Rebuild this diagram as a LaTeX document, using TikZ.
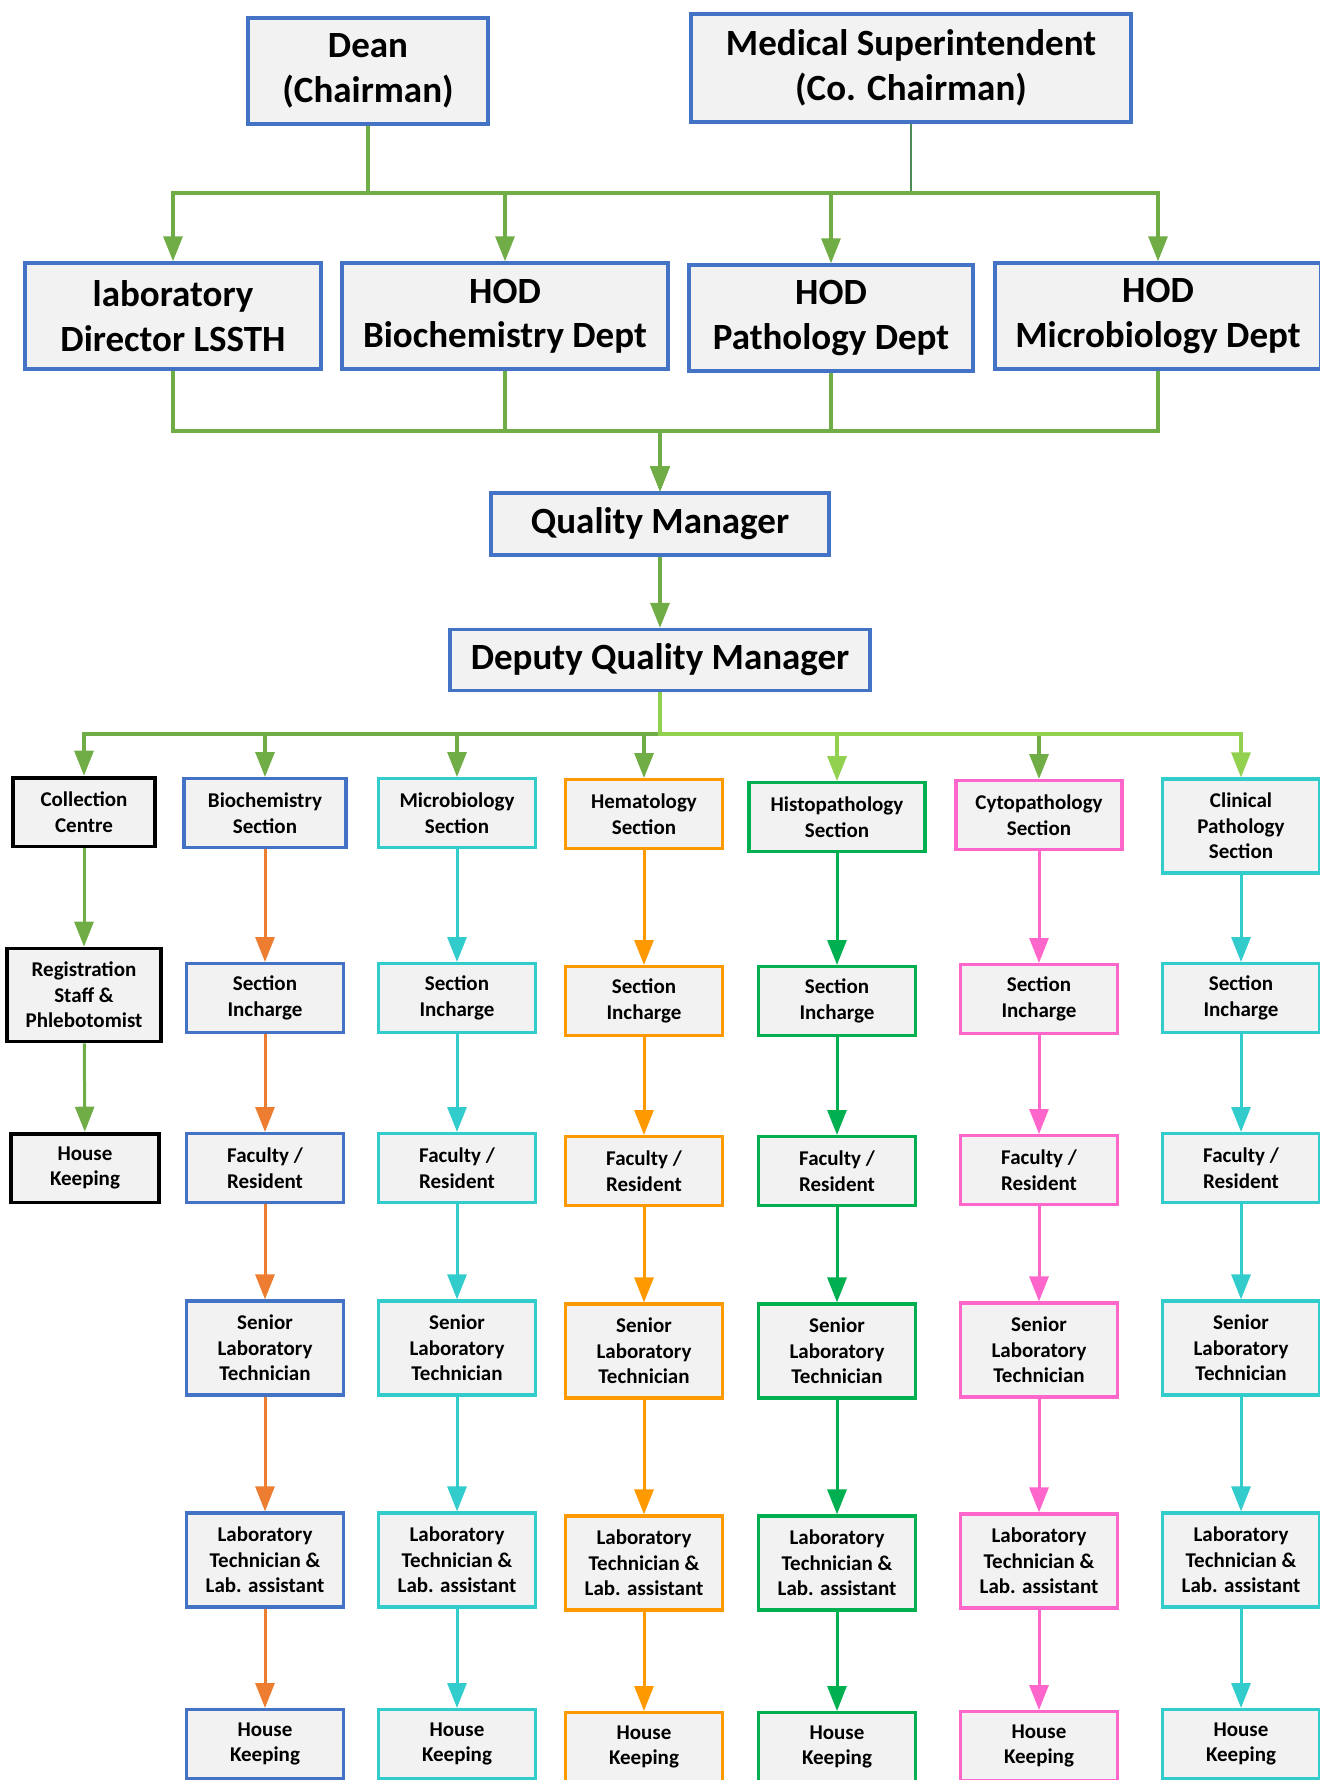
\documentclass[tikz,border=0pt]{standalone}
\usepackage{fontspec}
\setmainfont{Carlito}
\usetikzlibrary{arrows.meta}

\definecolor{hodblue}{HTML}{4472C4}
\definecolor{boxgrey}{HTML}{F2F2F2}
\definecolor{leafgreen}{HTML}{70AD47}
\definecolor{limegreen}{HTML}{92D050}
\definecolor{msgreen}{HTML}{4E8C57}
\definecolor{bioorange}{HTML}{ED7D31}
\definecolor{labcyan}{HTML}{33CCCC}
\definecolor{hemorange}{HTML}{FF9900}
\definecolor{histogreen}{HTML}{00B050}
\definecolor{cytopink}{HTML}{FF66CC}

\tikzset{
  headbox/.style={rectangle,draw=hodblue,fill=boxgrey,line width=1.7pt,align=center,
    inner sep=2pt,font=\bfseries\fontsize{18.5}{22.2}\selectfont},
  secbox/.style={rectangle,fill=boxgrey,line width=1.6pt,align=center,inner sep=2pt,
    minimum width=78.4pt,minimum height=34.4pt,font=\bfseries\fontsize{10.5}{12.8}\selectfont},
  tallbox/.style={minimum height=47pt},
  downhead/.style={-{Triangle[length=12.5pt,width=9.5pt]}},
  greenarrow/.style={draw=leafgreen,line width=1.6pt,downhead},
  limearrow/.style={draw=limegreen,line width=1.6pt,downhead}
}

\begin{document}
\begin{tikzpicture}[x=0.5pt,y=-0.5pt]
\useasboundingbox (0,0) rectangle (1320,1780);

\begin{scope}[every node/.style={headbox}]
    \node[minimum width=120pt,minimum height=53pt] (dean) at (368,71) {Dean\\(Chairman)};
    \node[minimum width=220pt,minimum height=54pt] (medsup) at (911,68) {Medical Superintendent\\(Co. Chairman)};
    \node[minimum width=148pt,minimum height=53pt] (labdir) at (173,316) {laboratory\\Director LSSTH};
    \node[minimum width=163pt,minimum height=53pt] (hodbio) at (505,316) {HOD\\Biochemistry Dept};
    \node[minimum width=142pt,minimum height=53pt] (hodpath) at (831,318) {HOD\\Pathology Dept};
    \node[minimum width=163pt,minimum height=53pt] (hodmicro) at (1158,316) {HOD\\Microbiology Dept};
    \node[minimum width=169pt,minimum height=31pt] (qm) at (660,524) {Quality Manager};
    \node[minimum width=210pt,minimum height=30.5pt] (dqm) at (660,660) {Deputy Quality Manager};
\end{scope}

\coordinate (topbus) at (660,193);
\coordinate (midbus) at (660,431);
\coordinate (lowbus) at (660,734);

\begin{scope}[every node/.style={secbox,draw=black,line width=1.9pt}]
    \node[minimum width=71pt] (coll1) at (84,812) {Collection\\Centre};
    \node[minimum width=77pt,minimum height=46.5pt] (coll2) at (84,995) {Registration\\Staff \&\\Phlebotomist};
    \node[minimum width=74pt] (coll3) at (85,1168) {House\\Keeping};
\end{scope}

\begin{scope}[every node/.style={secbox,draw=hodblue}]
    \node[minimum width=81pt] (bio1) at (265,813) {Biochemistry\\Section};
    \node (bio2) at (265,998) {Section\\Incharge};
    \node (bio3) at (265,1168) {Faculty /\\Resident};
    \node[tallbox] (bio4) at (265,1348) {Senior\\Laboratory\\Technician};
    \node[tallbox] (bio5) at (265,1560) {Laboratory\\Technician \&\\Lab. assistant};
    \node (bio6) at (265,1744) {House\\Keeping};
\end{scope}

\begin{scope}[every node/.style={secbox,draw=labcyan}]
    \node (micro1) at (457,813) {Microbiology\\Section};
    \node (micro2) at (457,998) {Section\\Incharge};
    \node (micro3) at (457,1168) {Faculty /\\Resident};
    \node[tallbox] (micro4) at (457,1348) {Senior\\Laboratory\\Technician};
    \node[tallbox] (micro5) at (457,1560) {Laboratory\\Technician \&\\Lab. assistant};
    \node (micro6) at (457,1744) {House\\Keeping};
\end{scope}

\begin{scope}[every node/.style={secbox,draw=hemorange}]
    \node (hem1) at (644,814) {Hematology\\Section};
    \node (hem2) at (644,1001) {Section\\Incharge};
    \node (hem3) at (644,1171) {Faculty /\\Resident};
    \node[tallbox] (hem4) at (644,1351) {Senior\\Laboratory\\Technician};
    \node[tallbox] (hem5) at (644,1563) {Laboratory\\Technician \&\\Lab. assistant};
    \node (hem6) at (644,1747) {House\\Keeping};
\end{scope}

\begin{scope}[every node/.style={secbox,draw=histogreen}]
    \node[minimum width=88pt] (histo1) at (837,817) {Histopathology\\Section};
    \node (histo2) at (837,1001) {Section\\Incharge};
    \node (histo3) at (837,1171) {Faculty /\\Resident};
    \node[tallbox] (histo4) at (837,1351) {Senior\\Laboratory\\Technician};
    \node[tallbox] (histo5) at (837,1563) {Laboratory\\Technician \&\\Lab. assistant};
    \node (histo6) at (837,1747) {House\\Keeping};
\end{scope}

\begin{scope}[every node/.style={secbox,draw=cytopink}]
    \node[minimum width=83pt] (cyto1) at (1039,815) {Cytopathology\\Section};
    \node (cyto2) at (1039,999) {Section\\Incharge};
    \node (cyto3) at (1039,1170) {Faculty /\\Resident};
    \node[tallbox] (cyto4) at (1039,1350) {Senior\\Laboratory\\Technician};
    \node[tallbox] (cyto5) at (1039,1561) {Laboratory\\Technician \&\\Lab. assistant};
    \node (cyto6) at (1039,1746) {House\\Keeping};
\end{scope}

\begin{scope}[every node/.style={secbox,draw=labcyan}]
    \node[tallbox] (clin1) at (1241,826) {Clinical\\Pathology\\Section};
    \node (clin2) at (1241,998) {Section\\Incharge};
    \node (clin3) at (1241,1168) {Faculty /\\Resident};
    \node[tallbox] (clin4) at (1241,1348) {Senior\\Laboratory\\Technician};
    \node[tallbox] (clin5) at (1241,1560) {Laboratory\\Technician \&\\Lab. assistant};
    \node (clin6) at (1241,1744) {House\\Keeping};
\end{scope}

\draw[msgreen,line width=1pt] (medsup.south) -- (medsup.south |- topbus);
\draw[greenarrow] (dean.south) -- (dean.south |- topbus) -| (labdir.north);
\draw[greenarrow] (dean.south) -- (dean.south |- topbus) -| (hodbio.north);
\draw[greenarrow] (dean.south) -- (dean.south |- topbus) -| (hodpath.north);
\draw[greenarrow] (dean.south) -- (dean.south |- topbus) -| (hodmicro.north);

\draw[greenarrow] (labdir.south) -- (labdir.south |- midbus) -| (qm.north);
\draw[greenarrow] (hodbio.south) -- (hodbio.south |- midbus) -| (qm.north);
\draw[greenarrow] (hodpath.south) -- (hodpath.south |- midbus) -| (qm.north);
\draw[greenarrow] (hodmicro.south) -- (hodmicro.south |- midbus) -| (qm.north);
\draw[greenarrow] (qm) -- (dqm);

\draw[greenarrow] (dqm.south) -- (dqm.south |- lowbus) -| (coll1.north);
\draw[greenarrow] (dqm.south) -- (dqm.south |- lowbus) -| (bio1.north);
\draw[greenarrow] (dqm.south) -- (dqm.south |- lowbus) -| (micro1.north);
\draw[greenarrow] (dqm.south) -- (dqm.south |- lowbus) -| (hem1.north);
\draw[greenarrow] (dqm.south) -- (dqm.south |- lowbus) -| (cyto1.north);
\draw[limearrow] (dqm.south) -- (dqm.south |- lowbus) -| (histo1.north);
\draw[limearrow] (dqm.south) -- (dqm.south |- lowbus) -| (clin1.north);

\begin{scope}[every edge/.style={draw=leafgreen,line width=1.5pt,downhead}]
    \path (coll1) edge (coll2);
    \path (coll2) edge (coll3);
\end{scope}

\begin{scope}[every edge/.style={draw=bioorange,line width=1.5pt,downhead}]
    \path (bio1) edge (bio2);
    \path (bio2) edge (bio3);
    \path (bio3) edge (bio4);
    \path (bio4) edge (bio5);
    \path (bio5) edge (bio6);
\end{scope}

\begin{scope}[every edge/.style={draw=labcyan,line width=1.5pt,downhead}]
    \path (micro1) edge (micro2);
    \path (micro2) edge (micro3);
    \path (micro3) edge (micro4);
    \path (micro4) edge (micro5);
    \path (micro5) edge (micro6);
    \path (clin1) edge (clin2);
    \path (clin2) edge (clin3);
    \path (clin3) edge (clin4);
    \path (clin4) edge (clin5);
    \path (clin5) edge (clin6);
\end{scope}

\begin{scope}[every edge/.style={draw=hemorange,line width=1.5pt,downhead}]
    \path (hem1) edge (hem2);
    \path (hem2) edge (hem3);
    \path (hem3) edge (hem4);
    \path (hem4) edge (hem5);
    \path (hem5) edge (hem6);
\end{scope}

\begin{scope}[every edge/.style={draw=histogreen,line width=1.5pt,downhead}]
    \path (histo1) edge (histo2);
    \path (histo2) edge (histo3);
    \path (histo3) edge (histo4);
    \path (histo4) edge (histo5);
    \path (histo5) edge (histo6);
\end{scope}

\begin{scope}[every edge/.style={draw=cytopink,line width=1.5pt,downhead}]
    \path (cyto1) edge (cyto2);
    \path (cyto2) edge (cyto3);
    \path (cyto3) edge (cyto4);
    \path (cyto4) edge (cyto5);
    \path (cyto5) edge (cyto6);
\end{scope}
\end{tikzpicture}
\end{document}
